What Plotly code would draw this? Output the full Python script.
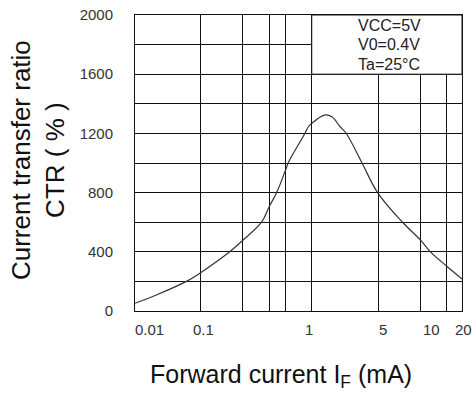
import numpy as np
import plotly.graph_objects as go

# ---- data ----
forward_current_ma = [0.01, 0.0211, 0.0605, 0.1, 0.162, 0.2, 0.3286, 0.4, 0.479, 0.6,
                      0.628, 0.875, 0.935, 1.0, 1.354, 1.62, 1.978, 2.286, 3.337, 4.86,
                      7.37, 10, 11.69, 15, 20]
ctr_percent = [52, 108, 200, 259, 400, 475, 600, 705, 800, 960,
               1002, 1201, 1245, 1268, 1324, 1313, 1245, 1201, 1002, 800,
               603, 480, 400, 304, 216]
x_tick_labels = ["0.01", "0.1", "1", "5", "10", "20"]
x_tick_values = [0.01, 0.1, 1, 5, 10, 20]
y_tick_values = [0, 400, 800, 1200, 1600, 2000]
conditions = ["VCC=5V", "V0=0.4V", "Ta=25°C"]

# ---- custom (hand-drawn datasheet) log scale for x ----
GRID_MA = [0.01, 0.1, 0.2, 0.4, 0.6, 1, 5, 10, 15, 20]
GRID_FRAC = [0, 0.2009, 0.3282, 0.4104, 0.4617, 0.5405, 0.7454, 0.8727, 0.9525, 1.0]


def xpos(v):
    return np.interp(np.log10(np.asarray(v, dtype=float)), np.log10(GRID_MA), GRID_FRAC)


FONT = "Liberation Sans, Arial, sans-serif"
INK = "#111111"

fig = go.Figure()
fig.add_trace(go.Scatter(
    x=xpos(forward_current_ma), y=ctr_percent, mode="lines",
    line=dict(color="#333333", width=1.2, shape="spline", smoothing=1.0),
    hoverinfo="skip", showlegend=False))

fig.update_layout(
    width=474, height=396, autosize=False,
    margin=dict(l=135, r=12, t=15, b=85, pad=0),
    paper_bgcolor="white", plot_bgcolor="white",
    font=dict(family=FONT, color=INK),
    showlegend=False,
)
fig.update_xaxes(
    range=[0, 1], tickmode="array", tickvals=list(xpos(GRID_MA)),
    showticklabels=False, showgrid=True, gridcolor="#111111", gridwidth=1,
    zeroline=False, showline=True, linecolor="#111111", linewidth=1, mirror=True,
    ticks="", automargin=False)
fig.update_yaxes(
    range=[0, 2000], tickmode="array", tickvals=y_tick_values,
    ticktext=[str(v) for v in y_tick_values],
    minor=dict(dtick=200, tick0=0, showgrid=True, gridcolor="#111111", gridwidth=1),
    showgrid=True, gridcolor="#111111", gridwidth=1,
    zeroline=False, showline=True, linecolor="#111111", linewidth=1, mirror=True,
    ticks="", ticklabelstandoff=18, ticklabeloverflow="allow", automargin=False,
    tickfont=dict(size=15, color="#333333", family=FONT))

# conditions box (covers the grid in the top-right corner)
fig.add_shape(type="rect", xref="x", yref="y",
              x0=float(xpos(1)), x1=float(xpos(20)), y0=1600, y1=2000,
              fillcolor="white", line=dict(color="#111111", width=1), layer="above")
for txt, yy in zip(conditions, [0.963, 0.899, 0.834]):
    fig.add_annotation(text=txt, xref="paper", yref="paper", x=0.777, y=yy,
                       xanchor="center", yanchor="middle", showarrow=False,
                       font=dict(size=16, color="#222222", family=FONT))

# x tick labels
label_shift = [14.5, 3, -2.7, 4.5, 11, 1.5]
for lab, val, sh in zip(x_tick_labels, x_tick_values, label_shift):
    fig.add_annotation(text=lab, xref="x", yref="paper", x=float(xpos(val)), y=0,
                       xanchor="center", yanchor="middle", xshift=sh, yshift=-18,
                       showarrow=False, font=dict(size=15, color="#333333", family=FONT))

# axis titles
fig.add_annotation(text="Current transfer ratio<br>CTR ( % )", textangle=-90,
                   xref="paper", yref="paper", x=0, y=0.51, xshift=-97,
                   xanchor="center", yanchor="middle", showarrow=False,
                   font=dict(size=26, color="#111111", family=FONT))
fig.add_annotation(text="Forward current I<sub>F</sub> (mA)",
                   xref="paper", yref="paper", x=0.5, y=0, xshift=-18, yshift=-65,
                   xanchor="center", yanchor="middle", showarrow=False,
                   font=dict(size=25, color="#111111", family=FONT))

fig.write_html("out.html", config={"displayModeBar": False},
               post_script="document.body.style.margin='0px';document.body.style.overflow='hidden';")
